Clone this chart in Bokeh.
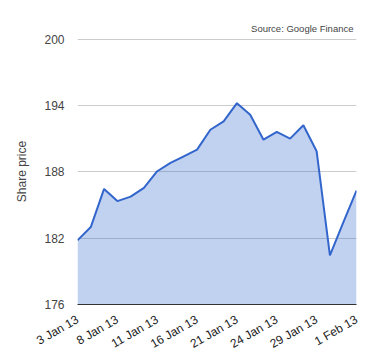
import math
from bokeh.plotting import figure
from bokeh.models import ColumnDataSource, Range1d, FixedTicker
from bokeh.embed import file_html
from bokeh.resources import INLINE

dates = ["3 Jan 13", "4 Jan 13", "7 Jan 13", "8 Jan 13", "9 Jan 13", "10 Jan 13",
         "11 Jan 13", "14 Jan 13", "15 Jan 13", "16 Jan 13", "17 Jan 13", "18 Jan 13",
         "21 Jan 13", "22 Jan 13", "23 Jan 13", "24 Jan 13", "25 Jan 13", "28 Jan 13",
         "29 Jan 13", "30 Jan 13", "31 Jan 13", "1 Feb 13"]
prices = [181.8, 183.0, 186.45, 185.35, 185.75, 186.55,
          188.05, 188.8, 189.4, 190.0, 191.8, 192.55,
          194.2, 193.15, 190.9, 191.6, 191.0, 192.2,
          189.85, 180.45, 183.4, 186.3]
y_ticks = [176, 182, 188, 194, 200]
x_tick_every = 3

idx = list(range(len(dates)))
source = ColumnDataSource(dict(x=idx, price=prices, base=[y_ticks[0]] * len(prices)))

FONT = "Liberation Sans"
TXT = "#444444"

p = figure(width=380, height=360, output_backend="svg", toolbar_location=None,
           x_range=Range1d(idx[0], idx[-1]), y_range=Range1d(y_ticks[0], y_ticks[-1] + 0.05),
           min_border_left=77, min_border_right=24, min_border_top=38, min_border_bottom=56,
           title="Source: Google Finance")
p.outline_line_color = None
p.background_fill_color = "white"
p.border_fill_color = "white"

p.title.align = "right"
p.title.text_font = FONT
p.title.text_font_size = "9.5px"
p.title.text_font_style = "normal"
p.title.text_color = TXT
p.title.offset = 3

p.varea(x="x", y1="base", y2="price", source=source, fill_color="#3366cc", fill_alpha=0.3)
p.line(x="x", y="price", source=source, line_color="#3366cc", line_width=2)

p.xgrid.visible = False
p.ygrid.grid_line_color = "#cccccc"
p.ygrid.grid_line_width = 1

p.yaxis.ticker = FixedTicker(ticks=y_ticks)
p.yaxis.axis_line_color = None
p.yaxis.major_tick_line_color = None
p.yaxis.minor_tick_line_color = None
p.yaxis.major_label_standoff = 7
p.yaxis.major_label_text_font = FONT
p.yaxis.major_label_text_font_size = "12px"
p.yaxis.major_label_text_color = TXT
p.yaxis.axis_label = "Share price"
p.yaxis.axis_label_text_font = FONT
p.yaxis.axis_label_text_font_size = "12px"
p.yaxis.axis_label_text_font_style = "normal"
p.yaxis.axis_label_text_color = TXT
p.yaxis.axis_label_standoff = 12

xt = idx[::x_tick_every]
p.xaxis.ticker = FixedTicker(ticks=xt)
p.xaxis.major_label_overrides = {i: dates[i] for i in xt}
p.xaxis.major_label_orientation = math.pi / 6
p.xaxis.axis_line_color = "#333333"
p.xaxis.axis_line_width = 1
p.xaxis.major_tick_line_color = None
p.xaxis.minor_tick_line_color = None
p.xaxis.major_label_standoff = 8
p.xaxis.major_label_text_font = FONT
p.xaxis.major_label_text_font_size = "12px"
p.xaxis.major_label_text_color = "#222222"

open("out.html", "w").write(file_html(p, INLINE))
